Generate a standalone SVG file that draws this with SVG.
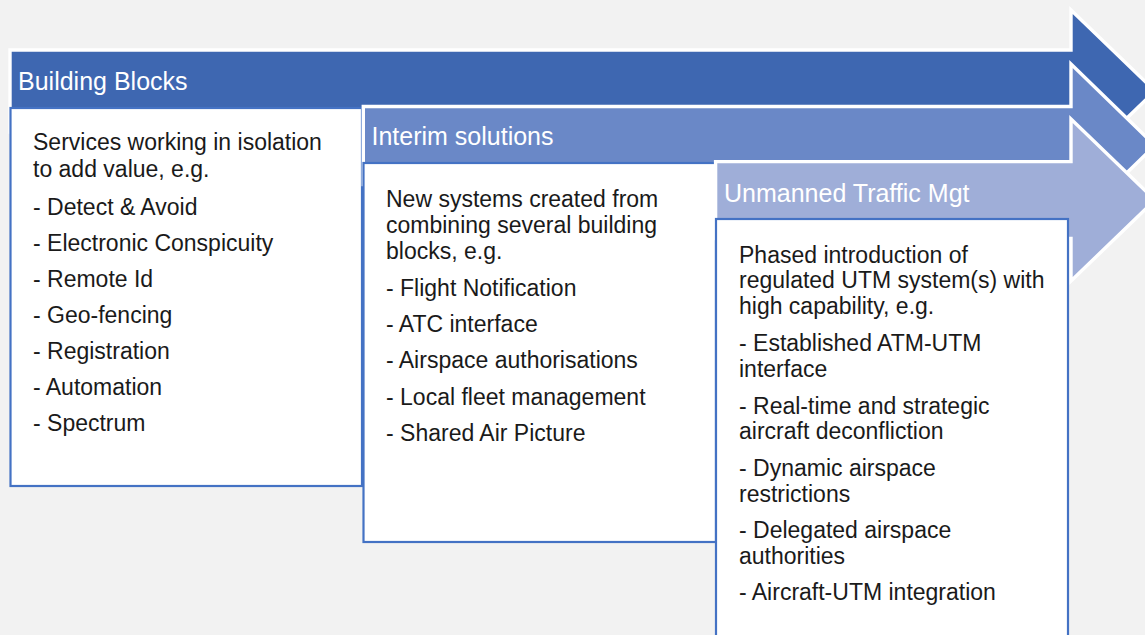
<svg xmlns="http://www.w3.org/2000/svg" width="1145" height="635" viewBox="0 0 1145 635">
  <style>
    .arrow { stroke: #ffffff; stroke-width: 3.4; stroke-linejoin: miter; }
    .a1 { fill: #3E67B1; }
    .a2 { fill: #6A88C7; }
    .a3 { fill: #9FAED8; }
    .box { fill: #ffffff; stroke: #4472C4; stroke-width: 2.2; }
    .hdr { font-family: "Liberation Sans", Arial, sans-serif; font-size: 25px; fill: #ffffff; }
    .txt { font-family: "Liberation Sans", Arial, sans-serif; font-size: 23px; fill: #1a1a1a; }
  </style>
  <rect x="0" y="0" width="1145" height="635" fill="#F2F2F2"/>

  <g id="building-blocks">
    <path class="arrow a1" d="M10,50 H1071 V10 L1155,91 L1071,172 V132 H10 Z"/>
    <text class="hdr" x="18" y="90">Building Blocks</text>
    <rect class="box" x="10.5" y="108" width="351.5" height="378"/>
    <g class="txt">
      <text x="33" y="150">Services working in isolation</text>
      <text x="33" y="176.5">to add value, e.g.</text>
      <text x="33" y="214.5">- Detect &amp; Avoid</text>
      <text x="33" y="250.5">- Electronic Conspicuity</text>
      <text x="33" y="286.5">- Remote Id</text>
      <text x="33" y="322.5">- Geo-fencing</text>
      <text x="33" y="358.5">- Registration</text>
      <text x="33" y="394.7">- Automation</text>
      <text x="33" y="430.7">- Spectrum</text>
    </g>
  </g>

  <g id="interim-solutions">
    <path class="arrow a2" d="M363.3,106.5 H1071 V64 L1155,145.5 L1071,227 V184.5 H363.3 Z"/>
    <text class="hdr" x="371.5" y="145">Interim solutions</text>
    <rect class="box" x="363.5" y="163" width="352.5" height="379"/>
    <g class="txt">
      <text x="386" y="206.7">New systems created from</text>
      <text x="386" y="233">combining several building</text>
      <text x="386" y="258.5">blocks, e.g.</text>
      <text x="386" y="295.5">- Flight Notification</text>
      <text x="386" y="332">- ATC interface</text>
      <text x="386" y="368">- Airspace authorisations</text>
      <text x="386" y="404.5">- Local fleet management</text>
      <text x="386" y="441">- Shared Air Picture</text>
    </g>
  </g>

  <g id="unmanned-traffic-mgt">
    <path class="arrow a3" d="M715.6,161.6 H1071 V119 L1155,200 L1071,281 V238.5 H715.6 Z"/>
    <text class="hdr" x="724" y="201.5">Unmanned Traffic Mgt</text>
    <rect class="box" x="716" y="219" width="352" height="430"/>
    <g class="txt">
      <text x="739" y="263.3">Phased introduction of</text>
      <text x="739" y="288.3">regulated UTM system(s) with</text>
      <text x="739" y="314">high capability, e.g.</text>
      <text x="739" y="351">- Established ATM-UTM</text>
      <text x="739" y="377">interface</text>
      <text x="739" y="413.6">- Real-time and strategic</text>
      <text x="739" y="439.3">aircraft deconfliction</text>
      <text x="739" y="476">- Dynamic airspace</text>
      <text x="739" y="501.7">restrictions</text>
      <text x="739" y="538.3">- Delegated airspace</text>
      <text x="739" y="564">authorities</text>
      <text x="739" y="600">- Aircraft-UTM integration</text>
    </g>
  </g>
</svg>
